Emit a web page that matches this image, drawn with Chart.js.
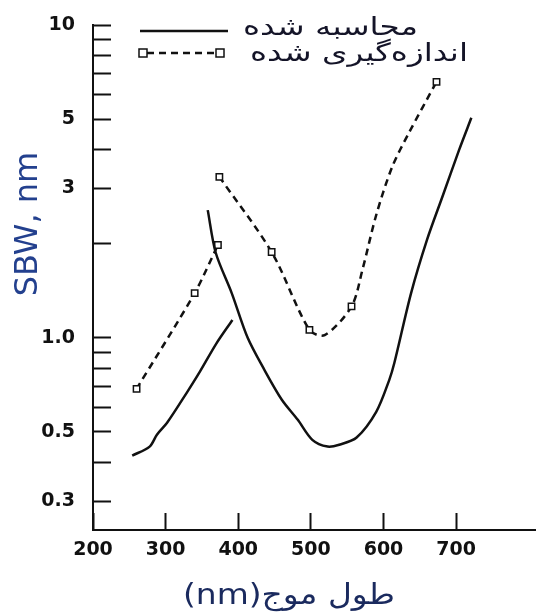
<!DOCTYPE html>
<html>
<head>
<meta charset="utf-8">
<script src="https://cdn.jsdelivr.net/npm/chart.js@4.4.1/dist/chart.umd.min.js"></script>
<style>
  html, body { margin: 0; padding: 0; background: #fff; }
  canvas { display: block; }
</style>
</head>
<body>
<canvas id="sbwChart" width="536" height="616"></canvas>
<script>
// Calculated SBW (two branches, null splits them)
const calcNm  = [254, 278, 288, 302, 329, 347, 370, 392, null,
                 358, 369, 391, 413, 436, 460, 482, 502, 523, 539, 563, 590, 608, 615, 638, 660, 681, 704, 721];
const calcSbw = [0.42, 0.449, 0.49, 0.535, 0.667, 0.778, 0.96, 1.14, null,
                 2.56, 1.87, 1.39, 1.0, 0.79, 0.634, 0.547, 0.472, 0.449, 0.455, 0.48, 0.58, 0.734, 0.832, 1.39, 2.06, 2.82, 3.98, 5.05];

// Measured SBW curve, markers only where a measurement was taken
const measNm  = [260, 340, 372, null, 374, 446, 498, 519, 556, 571, 590, 612, 635, 673];
const measSbw = [0.687, 1.39, 1.98, null, 3.27, 1.88, 1.06, 1.02, 1.26, 1.65, 2.47, 3.52, 4.52, 6.58];
const measuredAt = [260, 340, 372, 374, 446, 498, 556, 673];

// Axis ticks
const nmTicks = [200, 300, 400, 500, 600, 700];
const sbwTicks = [0.3, 0.4, 0.5, 0.6, 0.7, 0.8, 0.9, 1, 2, 3, 4, 5, 6, 7, 8, 9, 10];
const sbwLabelAt = [0.3, 0.5, 1, 3, 5, 10];
const sbwLabelText = ['0.3', '0.5', '1.0', '3', '5', '10'];

const seriesNames = ['محاسبه شده', 'اندازه‌گیری شده'];
const xTitle = 'طول موج(nm)';
const yTitle = 'SBW, nm';

const INK = '#111';

function toPoints(xs, ys) {
  return xs.map((x, i) => ({ x: x, y: ys[i] }));
}

// draw text stretched to a given width, left edge at x
function fitText(ctx, text, x, y, width) {
  const w = ctx.measureText(text).width;
  ctx.save();
  ctx.translate(x, y);
  ctx.scale(width / w, 1);
  ctx.textAlign = 'left';
  ctx.fillText(text, 0, 0);
  ctx.restore();
}

// Titles and the in-plot legend
const annotate = {
  id: 'annotate',
  afterDraw(chart) {
    const ctx = chart.ctx;
    ctx.save();

    // y title, rotated
    ctx.save();
    ctx.translate(29, 224);
    ctx.rotate(-Math.PI / 2);
    ctx.font = '32px "DejaVu Sans"';
    ctx.fillStyle = '#23408e';
    ctx.textAlign = 'center';
    ctx.textBaseline = 'middle';
    ctx.fillText(yTitle, 0, 0);
    ctx.restore();

    // x title
    ctx.direction = 'rtl';
    ctx.textBaseline = 'middle';
    ctx.font = '29px "DejaVu Sans"';
    ctx.fillStyle = '#1a2a5e';
    fitText(ctx, xTitle, 183, 596, 212);

    // legend: calculated
    ctx.strokeStyle = INK;
    ctx.lineWidth = 2.5;
    ctx.setLineDash([]);
    ctx.beginPath();
    ctx.moveTo(140, 31);
    ctx.lineTo(228, 31);
    ctx.stroke();

    // legend: measured
    ctx.setLineDash([7, 5]);
    ctx.beginPath();
    ctx.moveTo(147, 53);
    ctx.lineTo(216, 53);
    ctx.stroke();
    ctx.setLineDash([]);
    ctx.lineWidth = 1.5;
    ctx.fillStyle = '#fff';
    [143, 220].forEach(x => {
      ctx.fillRect(x - 4, 49, 8, 8);
      ctx.strokeRect(x - 4, 49, 8, 8);
    });

    ctx.font = '25px "DejaVu Sans"';
    ctx.fillStyle = '#141428';
    fitText(ctx, seriesNames[0], 243, 28, 175);
    fitText(ctx, seriesNames[1], 250, 54, 218);

    ctx.restore();
  }
};

const tickFont = { family: '"DejaVu Sans"', size: 19, weight: 'bold' };

new Chart(document.getElementById('sbwChart'), {
  type: 'line',
  data: {
    datasets: [
      {
        label: seriesNames[0],
        data: toPoints(calcNm, calcSbw),
        borderColor: INK,
        borderWidth: 2.5,
        pointRadius: 0,
        tension: 0.3,
        spanGaps: false
      },
      {
        label: seriesNames[1],
        data: toPoints(measNm, measSbw),
        borderColor: INK,
        borderWidth: 2.5,
        borderDash: [7, 5],
        tension: 0.3,
        spanGaps: false,
        pointStyle: 'rect',
        pointRadius: ctx => (ctx.raw && measuredAt.includes(ctx.raw.x)) ? 4.5 : 0,
        pointBorderWidth: 1.5,
        pointBorderColor: INK,
        pointBackgroundColor: '#fff'
      }
    ]
  },
  options: {
    responsive: false,
    animation: false,
    layout: {
      autoPadding: false,
      padding: { top: 25, right: 0, left: 0, bottom: 0 }
    },
    plugins: {
      legend: { display: false },
      tooltip: { enabled: false }
    },
    scales: {
      x: {
        type: 'linear',
        min: 200,
        max: 810,
        afterBuildTicks: axis => { axis.ticks = nmTicks.map(v => ({ value: v })); },
        afterFit: scale => {
          scale.height = 86;
          scale.paddingLeft = 0;
          scale.paddingRight = 0;
        },
        ticks: {
          font: tickFont,
          color: INK,
          padding: 26,
          maxRotation: 0,
          autoSkip: false,
          callback: v => String(v)
        },
        grid: {
          drawOnChartArea: false,
          tickLength: -17,
          tickWidth: 2,
          tickColor: INK
        },
        border: { color: INK, width: 2 }
      },
      y: {
        type: 'logarithmic',
        min: 0.243,
        max: 10,
        afterBuildTicks: axis => { axis.ticks = sbwTicks.map(v => ({ value: v })); },
        afterFit: scale => {
          scale.width = 93;
          scale.paddingTop = 0;
          scale.paddingBottom = 0;
        },
        ticks: {
          font: tickFont,
          color: INK,
          padding: 36,
          autoSkip: false,
          callback: v => {
            const i = sbwLabelAt.indexOf(v);
            return i >= 0 ? sbwLabelText[i] : '';
          }
        },
        grid: {
          drawOnChartArea: false,
          tickLength: -18,
          tickWidth: 2,
          tickColor: INK
        },
        border: { color: INK, width: 2 }
      }
    }
  },
  plugins: [annotate]
});
</script>
</body>
</html>
